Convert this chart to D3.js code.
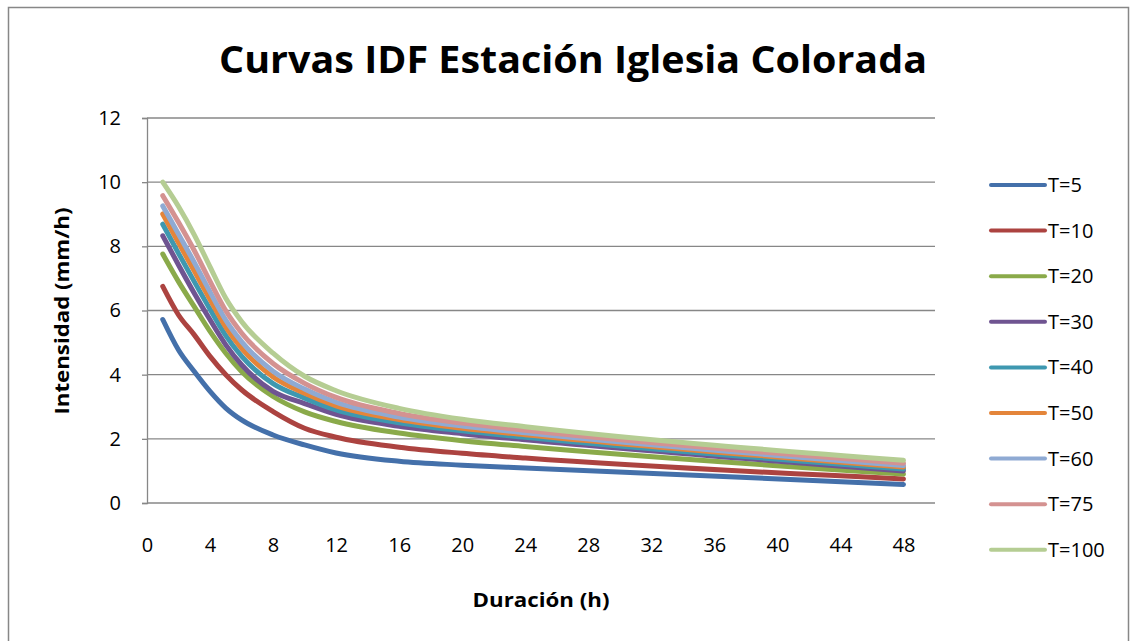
<!DOCTYPE html>
<html lang="es">

<head>
    <meta charset="UTF-8">
    <script src="https://cdnjs.cloudflare.com/ajax/libs/d3/7.8.5/d3.min.js"></script>
    <title>Curvas IDF Estación Iglesia Colorada</title>
    <style>
        body {
            margin: 0;
            background: #fff;
        }

        svg {
            display: block;
            font-family: "Open Sans", sans-serif;
        }
    </style>
</head>

<body>
    <section></section>

    <script>
        // durations (h) and intensities (mm/h)
        const duration = [1, 2, 3, 4, 5, 6, 8, 10, 12, 16, 20, 24, 48];
        const t5 = [5.72, 4.77, 4.10, 3.48, 2.96, 2.59, 2.12, 1.81, 1.56, 1.30, 1.18, 1.09, 0.58];
        const t10 = [6.75, 5.86, 5.24, 4.57, 4.00, 3.53, 2.85, 2.33, 2.05, 1.74, 1.55, 1.40, 0.75];
        const t20 = [7.76, 6.90, 6.12, 5.35, 4.67, 4.10, 3.32, 2.84, 2.54, 2.18, 1.94, 1.76, 0.90];
        const t30 = [8.33, 7.42, 6.54, 5.71, 4.93, 4.31, 3.48, 3.10, 2.76, 2.39, 2.16, 1.97, 1.00];
        const t40 = [8.69, 7.78, 6.90, 6.04, 5.22, 4.58, 3.72, 3.27, 2.90, 2.50, 2.25, 2.05, 1.06];
        const t50 = [9.01, 8.11, 7.23, 6.34, 5.48, 4.82, 3.93, 3.42, 3.03, 2.60, 2.33, 2.13, 1.12];
        const t60 = [9.26, 8.38, 7.50, 6.58, 5.70, 5.03, 4.11, 3.55, 3.14, 2.68, 2.40, 2.19, 1.17];
        const t75 = [9.58, 8.75, 7.87, 6.91, 5.99, 5.30, 4.35, 3.73, 3.29, 2.79, 2.49, 2.27, 1.24];
        const t100 = [10.0, 9.24, 8.36, 7.36, 6.38, 5.66, 4.67, 3.95, 3.50, 2.95, 2.61, 2.38, 1.33];

        const seriesNames = ['T=5', 'T=10', 'T=20', 'T=30', 'T=40', 'T=50', 'T=60', 'T=75', 'T=100'];
        const seriesValues = [t5, t10, t20, t30, t40, t50, t60, t75, t100];
        const seriesColors = ['#4470aa', '#ac4340', '#8aaa4a', '#6f5491', '#3e98b0',
            '#e4853a', '#8faad3', '#d49291', '#b5cd93'];

        const xTicks = [0, 4, 8, 12, 16, 20, 24, 28, 32, 36, 40, 44, 48];
        const yTicks = [0, 2, 4, 6, 8, 10, 12];

        const w = 1136;
        const h = 641;
        const plot = { left: 147, right: 935, top: 118, bottom: 503 };
        const grey = '#878787';

        const svg = d3.select('section')
            .append('svg')
            .attr('width', w)
            .attr('height', h);

        // chart frame
        svg.append('rect')
            .attr('x', 8.5)
            .attr('y', 7.5)
            .attr('width', 1120)
            .attr('height', 660)
            .attr('fill', 'none')
            .attr('stroke', grey)
            .attr('stroke-width', 1.5);

        const xScale = d3.scaleLinear()
            .domain([0, 50])
            .range([plot.left, plot.right]);

        const yScale = d3.scaleLinear()
            .domain([0, 12])
            .range([plot.bottom, plot.top]);

        // gridlines
        svg.append('g')
            .selectAll('line')
            .data(yTicks.filter(d => d > 0))
            .enter()
            .append('line')
            .attr('x1', plot.left)
            .attr('x2', plot.right)
            .attr('y1', d => yScale(d))
            .attr('y2', d => yScale(d))
            .attr('stroke', grey)
            .attr('stroke-width', 1.3);

        // y axis, small ticks to the left
        const yAxis = d3.axisLeft(yScale)
            .tickValues(yTicks)
            .tickSize(5)
            .tickPadding(21);

        const yG = svg.append('g')
            .attr('id', 'y-axis')
            .attr('transform', 'translate(' + plot.left + ',0)')
            .call(yAxis);
        yG.select('.domain').attr('stroke', grey).attr('stroke-width', 1.3);
        yG.selectAll('.tick line').attr('stroke', grey).attr('stroke-width', 1.3);
        yG.selectAll('.tick text')
            .attr('fill', '#000')
            .style('font-size', '20px')
            .style('font-family', '"Open Sans", sans-serif');

        // x axis, no tick marks
        const xAxis = d3.axisBottom(xScale)
            .tickValues(xTicks)
            .tickSize(0)
            .tickPadding(35);

        const xG = svg.append('g')
            .attr('id', 'x-axis')
            .attr('transform', 'translate(0,' + plot.bottom + ')')
            .call(xAxis);
        xG.select('.domain')
            .attr('d', 'M' + plot.left + ',0H' + plot.right)
            .attr('stroke', grey)
            .attr('stroke-width', 1.3);
        xG.selectAll('.tick text')
            .attr('fill', '#000')
            .style('font-size', '20px')
            .style('font-family', '"Open Sans", sans-serif');

        // curves
        const line = d3.line()
            .x((d, i) => xScale(duration[i]))
            .y(d => yScale(d))
            .curve(d3.curveMonotoneX);

        svg.append('g')
            .selectAll('path')
            .data(seriesValues)
            .enter()
            .append('path')
            .attr('d', d => line(d))
            .attr('fill', 'none')
            .attr('stroke', (d, i) => seriesColors[i])
            .attr('stroke-width', 5)
            .attr('stroke-linecap', 'round')
            .attr('stroke-linejoin', 'round');

        // titles
        svg.append('text')
            .attr('x', 573)
            .attr('y', 73)
            .attr('text-anchor', 'middle')
            .attr('textLength', 708)
            .attr('lengthAdjust', 'spacingAndGlyphs')
            .style('font-size', '38px')
            .style('font-weight', 'bold')
            .text('Curvas IDF Estación Iglesia Colorada');

        svg.append('text')
            .attr('x', 541)
            .attr('y', 607)
            .attr('text-anchor', 'middle')
            .attr('textLength', 137)
            .attr('lengthAdjust', 'spacingAndGlyphs')
            .style('font-size', '19px')
            .style('font-weight', 'bold')
            .text('Duración (h)');

        svg.append('text')
            .attr('transform', 'translate(69,311) rotate(-90)')
            .attr('text-anchor', 'middle')
            .attr('textLength', 207)
            .attr('lengthAdjust', 'spacingAndGlyphs')
            .style('font-size', '19px')
            .style('font-weight', 'bold')
            .text('Intensidad (mm/h)');

        // legend
        const legend = svg.append('g')
            .selectAll('g')
            .data(seriesNames)
            .enter()
            .append('g')
            .attr('transform', (d, i) => 'translate(990,' + (185 + i * 45.6) + ')');

        legend.append('line')
            .attr('x1', 1)
            .attr('x2', 55)
            .attr('stroke', (d, i) => seriesColors[i])
            .attr('stroke-width', 4)
            .attr('stroke-linecap', 'round');

        legend.append('text')
            .attr('x', 58)
            .attr('y', 7)
            .style('font-size', '20px')
            .text(d => d);
    </script>
</body>

</html>
